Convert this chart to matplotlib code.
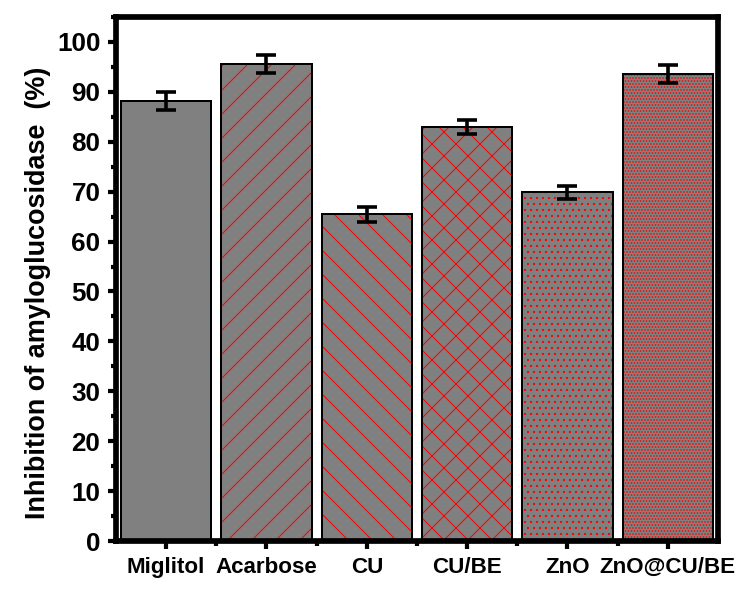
import numpy as np
import matplotlib
matplotlib.use("Agg")
import matplotlib.pyplot as plt
from matplotlib.ticker import MultipleLocator, FixedLocator

# data
samples = ["Miglitol", "Acarbose", "CU", "CU/BE", "ZnO", "ZnO@CU/BE"]
inhibition = [88.2, 95.5, 65.5, 83.0, 69.9, 93.6]
errors = [1.8, 1.8, 1.5, 1.35, 1.3, 1.75]
hatches = ["", "/", "\\", "x", "..", "...."]

plt.rcParams['font.family'] = ['Liberation Sans', 'DejaVu Sans']
plt.rcParams['font.weight'] = 'bold'
plt.rcParams['hatch.linewidth'] = 1.0

# dpi 72 keeps the hatch tile on whole pixels (no moire on the dense dots)
fig = plt.figure(figsize=(736 / 72, 591 / 72), dpi=72)
ax = fig.add_axes([0.1576, 0.0846, 0.8179, 0.8866])

x = np.arange(len(samples))
for i in range(len(samples)):
    ax.bar(x[i], inhibition[i], width=0.9, color='#808080', edgecolor='red',
           linewidth=0, hatch=hatches[i], zorder=2)
ax.bar(x, inhibition, width=0.9, fill=False, edgecolor='black', linewidth=2, zorder=3)
ax.errorbar(x, inhibition, yerr=errors, fmt='none', ecolor='black',
            elinewidth=3.6, capsize=10.4, capthick=3.6, zorder=4)

ax.set_xlim(-0.5, 5.5)
ax.set_ylim(0, 105)
ax.set_xticks(x)
ax.set_xticklabels(samples, fontsize=22.4, fontweight='bold')
ax.xaxis.set_minor_locator(FixedLocator(x[:-1] + 0.5))
ax.yaxis.set_major_locator(MultipleLocator(10))
ax.yaxis.set_minor_locator(MultipleLocator(5))
for lab in ax.get_yticklabels():
    lab.set_fontsize(26)
    lab.set_fontweight('bold')

ax.tick_params(which='major', direction='out', length=8.3, width=4.2, pad=7.3)
ax.tick_params(which='minor', direction='out', length=5.2, width=4.2)
for s in ax.spines.values():
    s.set_linewidth(5.7)

fig.text(0.051, 0.505, "Inhibition of amyloglucosidase  (%)", rotation=90,
         fontsize=27, fontweight='bold', ha='center', va='center')

fig.savefig("out.png", dpi=72)
